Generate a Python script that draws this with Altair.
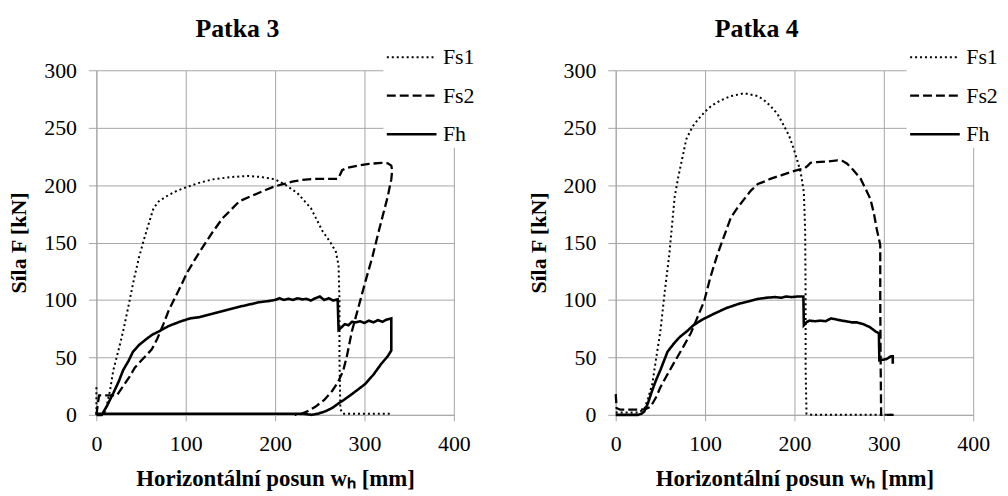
import altair as alt
import pandas as pd

SERIES = ["Fs1", "Fs2", "Fh"]
PANEL_TITLES = ["Patka 3", "Patka 4"]
X_TICKS = [0, 100, 200, 300, 400]
Y_TICKS = [0, 50, 100, 150, 200, 250, 300]
X_TITLE = "Horizontální posun wₕ [mm]"
Y_TITLE = "Síla  F [kN]"

# ---------------- Patka 3 ----------------
P3_FS1_X = [0, 0, 5, 10, 15, 19, 25, 30, 36, 42, 48, 53, 58, 64, 70, 80, 90, 100, 115, 130, 150, 170,
            185, 200, 212, 225, 240, 253, 262, 268, 271, 272, 272, 273, 276, 300, 330]
P3_FS1_Y = [24, 1, 0, 3, 20, 39, 57, 73, 95, 118, 138, 152, 165, 180, 186, 191, 195, 198, 202, 205, 207, 208,
            207, 205, 200, 193, 180, 160, 150, 142, 130, 100, 50, 5, 1, 1, 1]

P3_FS2_X = [0, 3, 10, 18, 23, 30, 37, 43, 50, 56, 62, 68, 75, 81, 88, 95, 101, 110, 119, 130, 141, 150,
            160, 175, 190, 200, 210, 219, 230, 245, 260, 270, 272, 275, 280, 293, 305, 319, 326, 330, 331,
            330, 326, 321, 316, 309, 301, 293, 286, 280, 276, 270, 264, 255, 245, 236, 227, 222]
P3_FS2_Y = [0, 17, 17, 17, 17, 25, 33, 41, 47, 52, 57, 66, 79, 91, 102, 113, 123, 135, 146, 159, 171, 178,
            186, 191, 196, 199, 201, 203, 204.5, 205.5, 205.5, 205.5, 208, 213, 215, 217, 218.5, 219.4, 219,
            217, 213, 205, 190, 175, 160, 138, 116, 93, 73, 50, 38, 28, 21, 13, 7, 3, 0, 0]

P3_FH_X = [0, 6, 12, 19, 25, 30, 36, 41, 48, 56, 63, 71, 80, 93, 105, 115, 130, 149, 165, 182, 192, 200,
           205, 210, 215, 220, 225, 230, 235, 240, 245, 250, 255, 260, 265, 270, 271, 274, 278, 282, 286,
           290, 295, 300, 305, 310, 315, 320, 325, 330, 330, 326, 319, 310, 301, 291, 282, 276, 271, 264,
           256, 248, 241, 230, 200, 150, 100, 50, 0]
P3_FH_Y = [0, 0, 8, 19, 29, 39, 47, 55, 61, 66, 70, 73, 77, 81, 84, 85, 88, 92, 95, 98, 99, 100,
           101.5, 100, 101, 100, 101.5, 100.5, 101, 99.5, 101.5, 103, 100, 101.5, 99.5, 100.5, 74, 76, 79,
           78, 81, 80.5, 81.5, 80, 82, 80.5, 82.5, 81, 83, 84, 56, 51, 44.6, 35, 27, 21, 15.8, 12.5, 10, 6,
           3, 1, 0, 1, 1, 1, 1, 1, 1]

# ---------------- Patka 4 ----------------
P4_FS1_X = [0, 25, 32, 36, 41, 45, 50, 55, 60, 66, 70, 79, 86, 92, 100, 107, 118, 129, 144, 159, 166,
            173, 181, 188, 194, 199, 203, 207, 210.5, 212, 212.5, 212.5, 213.5, 220, 260, 311]
P4_FS1_Y = [2, 2, 5, 14, 27, 48, 73, 108, 140, 190, 207, 240, 251, 257, 264, 269, 274, 277.5, 280, 277.5,
            274, 269, 262, 252, 243, 232, 222, 211, 194, 160, 100, 40, 1, 0, 0, 0]

P4_FS2_X = [0, 1, 5, 15, 28, 33, 39, 45, 50, 57, 65, 74, 84, 91, 99, 106, 114, 121, 129, 136, 144, 151,
            159, 166, 173, 185, 196, 205, 211, 215, 218, 225, 235, 248, 254, 259, 266, 274, 280, 285, 289,
            292, 294, 296, 296, 296.5, 297, 303, 311]
P4_FS2_Y = [18, 6, 4.5, 4.5, 4.5, 5, 7, 15, 24, 34, 45, 57, 71, 84, 99, 120, 140, 155, 172, 180, 188, 195,
            201, 203, 205.5, 208.5, 211.5, 213.5, 214.5, 217, 219.5, 220, 220.5, 221.5, 221, 218.6, 213,
            205.6, 196, 188, 175, 162, 155, 148, 100, 40, 0, 0, 0]

P4_FH_X = [0, 25, 29, 32, 36, 41, 45, 50, 54, 58, 65, 72, 80, 87, 97, 110, 124, 139, 150, 160, 169, 178,
           185, 191, 197, 203, 210, 210.5, 214, 217, 223, 229, 235, 241, 247, 253, 258, 264, 270, 277, 284,
           291, 294.5, 295, 299, 303, 306, 308, 310, 310]
P4_FH_Y = [0, 0, 1, 3, 10, 21.6, 30, 39, 47, 55, 62, 68, 73, 78, 83, 88, 93, 97, 99, 101, 102, 102.5,
           102, 103, 102.5, 103, 103, 78, 81, 82, 81.5, 82, 81.5, 84, 83, 82, 81.5, 80.5, 80.5, 79, 76.5,
           72.5, 71, 47.5, 48, 48.5, 50, 51, 51, 44.5]


def frame(series):
    rows = []
    for name, (xs, ys) in series.items():
        for i, (x, y) in enumerate(zip(xs, ys)):
            rows.append({"series": name, "x": x, "y": y, "i": i})
    return pd.DataFrame(rows)


FONT = "Liberation Serif"
GRID = "#A6A6A6"


def panel(df, title, lx, ly):
    leg = alt.Legend(
        title=None, orient="none", legendX=lx, legendY=ly, fillColor="white", padding=2,
        symbolSize=2500, symbolType="stroke", symbolStrokeColor="black",
        labelFont=FONT, labelFontSize=22, labelColor="black", labelOffset=5, rowPadding=1,
    )
    return alt.Chart(
        df,
        title=alt.TitleParams(title, font=FONT, fontSize=26, fontWeight="bold", color="black",
                              anchor="middle", dx=-38, offset=-12),
    ).mark_line(color="black", strokeCap="butt").encode(
        x=alt.X("x:Q", scale=alt.Scale(domain=[0, 400], nice=False),
                axis=alt.Axis(values=X_TICKS, title=X_TITLE, tickSize=6, labelPadding=13,
                              titlePadding=13, labelFlush=False, format="d",
                              labelFont=FONT, titleFont=FONT, labelFontSize=22, titleFontSize=23)),
        y=alt.Y("y:Q", scale=alt.Scale(domain=[0, 300], nice=False),
                axis=alt.Axis(values=Y_TICKS, title=Y_TITLE, tickSize=8, labelPadding=12,
                              titlePadding=13, format="d",
                              labelFont=FONT, titleFont=FONT, labelFontSize=22, titleFontSize=22)),
        strokeDash=alt.StrokeDash("series:N", sort=SERIES,
                                  scale=alt.Scale(domain=SERIES, range=[[2, 3], [9, 4], [1, 0]]),
                                  legend=leg),
        strokeWidth=alt.StrokeWidth("series:N", sort=SERIES,
                                    scale=alt.Scale(domain=SERIES, range=[2, 2.6, 2.6]),
                                    legend=leg),
        order=alt.Order("i:Q"),
    ).properties(width=360, height=347)


p3 = panel(frame({"Fs1": (P3_FS1_X, P3_FS1_Y), "Fs2": (P3_FS2_X, P3_FS2_Y), "Fh": (P3_FH_X, P3_FH_Y)}),
           PANEL_TITLES[0], 289, -41)
p4 = panel(frame({"Fs1": (P4_FS1_X, P4_FS1_Y), "Fs2": (P4_FS2_X, P4_FS2_Y), "Fh": (P4_FH_X, P4_FH_Y)}),
           PANEL_TITLES[1], 293, -41)

chart = alt.hconcat(p3, p4, spacing=51).resolve_scale(
    strokeDash="independent", strokeWidth="independent"
).resolve_legend(
    strokeDash="independent", strokeWidth="independent"
).properties(
    padding={"left": 0, "top": 6, "right": 0, "bottom": 0}
).configure(
    font=FONT
).configure_view(
    strokeWidth=0
).configure_axis(
    gridColor=GRID, domainColor=GRID, tickColor=GRID, gridWidth=1,
    labelFont=FONT, titleFont=FONT, labelFontSize=22, titleFontSize=22,
    labelColor="black", titleColor="black", titleFontWeight="bold",
).configure_legend(
    labelFont=FONT
)

chart.save("out.html", embed_options={"renderer": "svg", "actions": False})
